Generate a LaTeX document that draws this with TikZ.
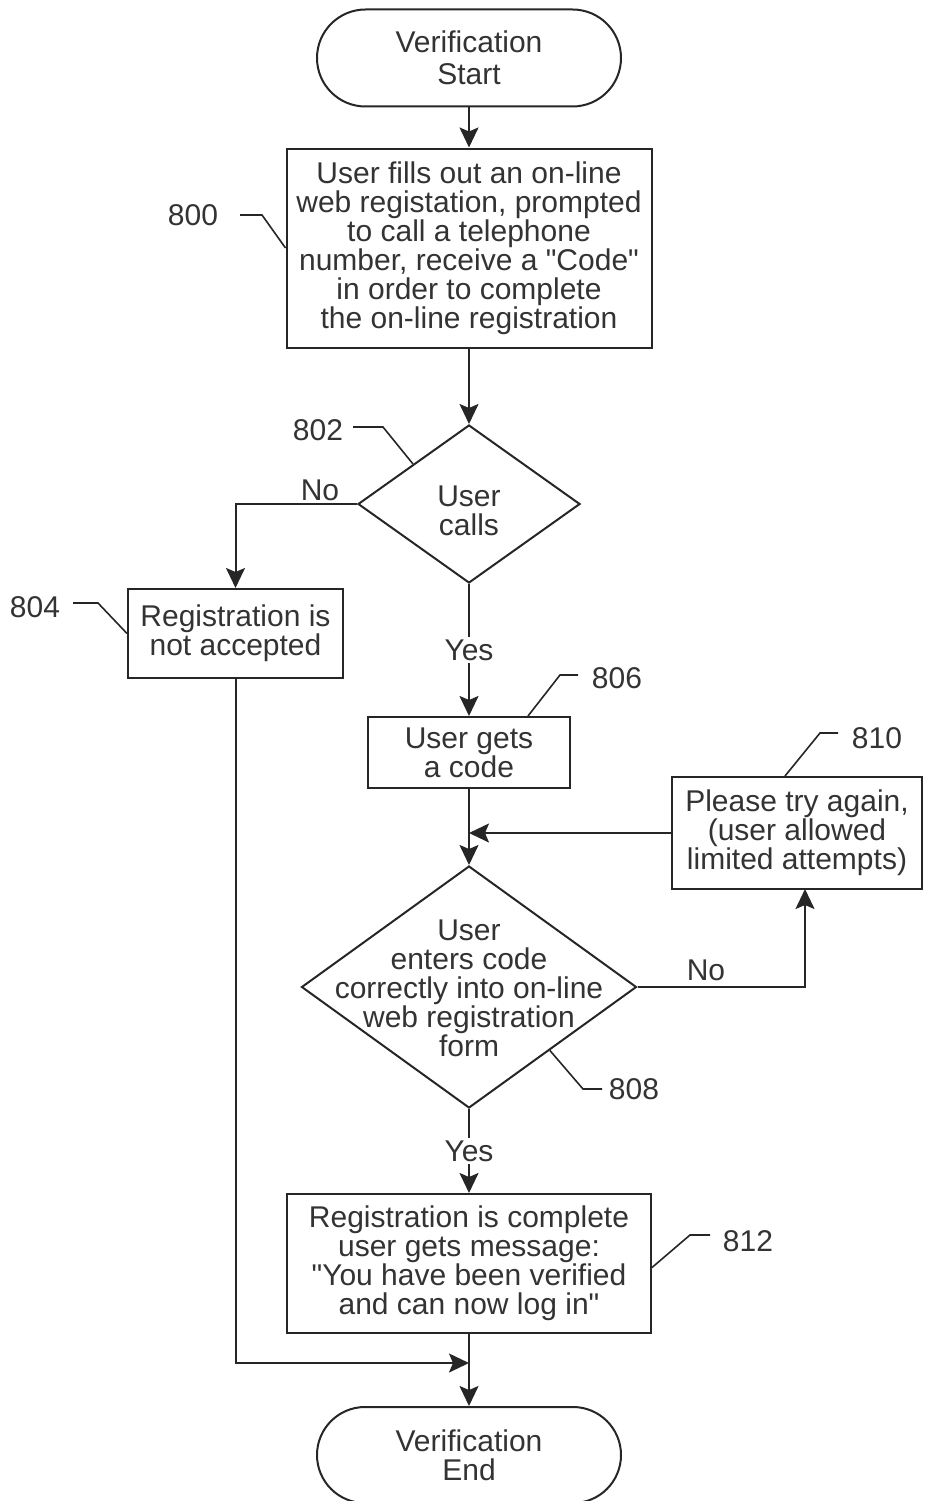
\documentclass[tikz,border=0pt]{standalone}
\usepackage{fontspec}
\setmainfont{Liberation Sans}
\newfontfamily\quotefont{Liberation Sans}
\newcommand{\sq}{{\quotefont"}}
\usetikzlibrary{shapes.geometric,shapes.misc,arrows.meta,calc}
\begin{document}
\begin{tikzpicture}[x=1pt,y=-1pt,
  every node/.style={font=\fontsize{30}{29}\selectfont, text=black!80, align=center},
  box/.style={draw=black!85, line width=2pt, rectangle, inner sep=0pt},
  term/.style={draw=black!85, line width=2pt, rounded rectangle, inner sep=0pt, minimum width=304pt, minimum height=97pt},
  dia/.style={draw=black!85, line width=2pt, diamond, inner sep=0pt},
  conn/.style={draw=black!85, line width=2pt, -{Stealth[length=20pt,width=19pt,inset=4pt]}},
  leader/.style={draw=black!85, line width=1.6pt},
  refnum/.style={font=\fontsize{30}{30}\selectfont},
  lbl/.style={fill=white, inner sep=3pt}]
\useasboundingbox (0,0) rectangle (925,1501);

% shapes
\node[term] (start) at (469,58) {Verification\\[3pt]Start};
\node[box, minimum width=365pt, minimum height=199pt] (b800) at (469,248) {User fills out an on-line\\web registation, prompted\\to call a telephone\\number, receive a \sq Code\sq\\in order to complete\\the on-line registration};
\node[dia, minimum width=222pt, minimum height=158pt] (d802) at (469,504) {};
\node (t802) at (469,511) {User\\calls};
\node[box, minimum width=215pt, minimum height=89pt] (b804) at (235.5,633.5) {Registration is\\not accepted};
\node[box, minimum width=202pt, minimum height=71pt] (b806) at (469,752.5) {User gets\\a code};
\node[box, minimum width=250pt, minimum height=112pt] (b810) at (797,833) {Please try again,\\(user allowed\\limited attempts)};
\node[dia, minimum width=335pt, minimum height=242pt] (d808) at (469,987) {};
\node (t808) at (469,988) {User\\enters code\\correctly into on-line\\web registration\\form};
\node[box, minimum width=364pt, minimum height=139pt] (b812) at (469,1263.5) {Registration is complete\\user gets message:\\\sq You have been verified\\and can now log in\sq};
\node[term, minimum height=96pt] (end) at (469,1455) {Verification\\End};

% reference numerals
\node[refnum] (l800) at (193,215) {800};
\node[refnum] (l802) at (318,430) {802};
\node[refnum] (l804) at (35,607) {804};
\node[refnum] (l806) at (617,678) {806};
\node[refnum] (l808) at (634,1089) {808};
\node[refnum] (l810) at (877,738) {810};
\node[refnum] (l812) at (748,1241) {812};

% leaders
\draw[leader] (240,215) -- (262,215) -- (b800.west);
\draw[leader] (353,427) -- (383,427) -- ($(d802.north)!0.5!(d802.west)$);
\draw[leader] (73,603) -- (98,603) -- (b804.west);
\draw[leader] (578,675) -- (560,675) -- ($(b806.north)+(59,0)$);
\draw[leader] (602,1089) -- (583,1089) -- ($(d808.east)!0.52!(d808.south)$);
\draw[leader] (838,733) -- (820,733) -- ($(b810.north)+(-12,0)$);
\draw[leader] (710,1235) -- (690,1235) -- ($(b812.east)+(0,4)$);

% connectors
\coordinate (j1) at (469,833);
\coordinate (j2) at (469,1363);
\coordinate (k810) at (805,889);
\draw[conn] (start.south) -- (b800.north);
\draw[conn] (b800.south) -- (d802.north);
\draw[conn] (d802.west) -| (b804.north);
\node (no1) at (320,490) {No};
\draw[conn] (d802.south) -- node[lbl] (yes1) {Yes} (b806.north);
\draw[conn] (b806.south) -- (d808.north);
\draw[conn] (b810.west) -- (j1);
\draw[conn] (d808.east) -| (k810);
\node (no2) at (706,970) {No};
\draw[conn] (d808.south) -- node[lbl] (yes2) {Yes} (b812.north);
\draw[conn] (b804.south) |- (j2);
\draw[conn] (b812.south) -- (end.north);
\end{tikzpicture}
\end{document}
